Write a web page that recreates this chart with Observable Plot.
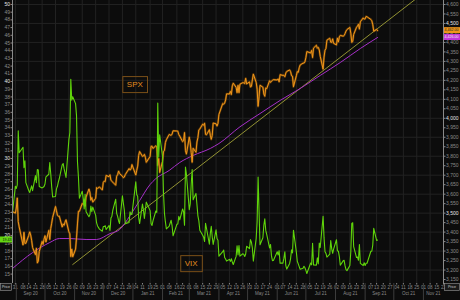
<!DOCTYPE html>
<html><head><meta charset="utf-8">
<script src="https://cdn.jsdelivr.net/npm/d3@7"></script>
<script src="https://cdn.jsdelivr.net/npm/@observablehq/plot@0.6"></script>
<style>
html,body{margin:0;padding:0;background:#0c0c0c;}
#chart{width:460px;height:300px;overflow:hidden;}
</style></head><body><div id="chart"></div>
<script>
// ---- data (trading days, SPX close, VIX close) ----
const dates = [
"2020-08-28","2020-08-31",
"2020-09-01","2020-09-02","2020-09-03","2020-09-04","2020-09-08","2020-09-09","2020-09-10","2020-09-11","2020-09-14","2020-09-15","2020-09-16","2020-09-17","2020-09-18","2020-09-21","2020-09-22","2020-09-23","2020-09-24","2020-09-25","2020-09-28","2020-09-29","2020-09-30",
"2020-10-01","2020-10-02","2020-10-05","2020-10-06","2020-10-07","2020-10-08","2020-10-09","2020-10-12","2020-10-13","2020-10-14","2020-10-15","2020-10-16","2020-10-19","2020-10-20","2020-10-21","2020-10-22","2020-10-23","2020-10-26","2020-10-27","2020-10-28","2020-10-29","2020-10-30",
"2020-11-02","2020-11-03","2020-11-04","2020-11-05","2020-11-06","2020-11-09","2020-11-10","2020-11-11","2020-11-12","2020-11-13","2020-11-16","2020-11-17","2020-11-18","2020-11-19","2020-11-20","2020-11-23","2020-11-24","2020-11-25","2020-11-27","2020-11-30",
"2020-12-01","2020-12-02","2020-12-03","2020-12-04","2020-12-07","2020-12-08","2020-12-09","2020-12-10","2020-12-11","2020-12-14","2020-12-15","2020-12-16","2020-12-17","2020-12-18","2020-12-21","2020-12-22","2020-12-23","2020-12-24","2020-12-28","2020-12-29","2020-12-30","2020-12-31",
"2021-01-04","2021-01-05","2021-01-06","2021-01-07","2021-01-08","2021-01-11","2021-01-12","2021-01-13","2021-01-14","2021-01-15","2021-01-19","2021-01-20","2021-01-21","2021-01-22","2021-01-25","2021-01-26","2021-01-27","2021-01-28","2021-01-29",
"2021-02-01","2021-02-02","2021-02-03","2021-02-04","2021-02-05","2021-02-08","2021-02-09","2021-02-10","2021-02-11","2021-02-12","2021-02-16","2021-02-17","2021-02-18","2021-02-19","2021-02-22","2021-02-23","2021-02-24","2021-02-25","2021-02-26",
"2021-03-01","2021-03-02","2021-03-03","2021-03-04","2021-03-05","2021-03-08","2021-03-09","2021-03-10","2021-03-11","2021-03-12","2021-03-15","2021-03-16","2021-03-17","2021-03-18","2021-03-19","2021-03-22","2021-03-23","2021-03-24","2021-03-25","2021-03-26","2021-03-29","2021-03-30","2021-03-31",
"2021-04-01","2021-04-05","2021-04-06","2021-04-07","2021-04-08","2021-04-09","2021-04-12","2021-04-13","2021-04-14","2021-04-15","2021-04-16","2021-04-19","2021-04-20","2021-04-21","2021-04-22","2021-04-23","2021-04-26","2021-04-27","2021-04-28","2021-04-29","2021-04-30",
"2021-05-03","2021-05-04","2021-05-05","2021-05-06","2021-05-07","2021-05-10","2021-05-11","2021-05-12","2021-05-13","2021-05-14","2021-05-17","2021-05-18","2021-05-19","2021-05-20","2021-05-21","2021-05-24","2021-05-25","2021-05-26","2021-05-27","2021-05-28",
"2021-06-01","2021-06-02","2021-06-03","2021-06-04","2021-06-07","2021-06-08","2021-06-09","2021-06-10","2021-06-11","2021-06-14","2021-06-15","2021-06-16","2021-06-17","2021-06-18","2021-06-21","2021-06-22","2021-06-23","2021-06-24","2021-06-25","2021-06-28","2021-06-29","2021-06-30",
"2021-07-01","2021-07-02","2021-07-06","2021-07-07","2021-07-08","2021-07-09","2021-07-12","2021-07-13","2021-07-14","2021-07-15","2021-07-16","2021-07-19","2021-07-20","2021-07-21","2021-07-22","2021-07-23","2021-07-26","2021-07-27","2021-07-28","2021-07-29","2021-07-30",
"2021-08-02","2021-08-03","2021-08-04","2021-08-05","2021-08-06","2021-08-09","2021-08-10","2021-08-11","2021-08-12","2021-08-13","2021-08-16","2021-08-17","2021-08-18","2021-08-19","2021-08-20","2021-08-23","2021-08-24","2021-08-25","2021-08-26","2021-08-27","2021-08-30","2021-08-31",
"2021-09-01","2021-09-02","2021-09-03","2021-09-07","2021-09-08","2021-09-09","2021-09-10","2021-09-13","2021-09-14"
];
const spx = [
3508,3500,
3527,3580,3455,3427,3332,3399,3340,3341,3383,3401,3385,3357,3319,3281,3315,3237,3247,3298,3351,3335,3363,
3381,3348,3409,3361,3419,3447,3477,3535,3512,3489,3483,3484,3427,3443,3436,3453,3465,3401,3391,3271,3310,3270,
3310,3370,3443,3510,3509,3551,3545,3572,3537,3585,3627,3610,3568,3582,3558,3578,3635,3630,3638,3622,
3662,3669,3666,3699,3692,3702,3673,3668,3663,3647,3695,3702,3722,3709,3695,3687,3690,3703,3735,3727,3732,3756,
3701,3726,3748,3804,3825,3799,3801,3810,3795,3768,3799,3852,3853,3841,3855,3850,3751,3788,3714,
3774,3826,3830,3872,3887,3915,3912,3910,3917,3934,3933,3932,3914,3906,3877,3881,3925,3829,3811,
3901,3870,3820,3768,3842,3821,3875,3898,3939,3943,3969,3963,3974,3915,3913,3940,3911,3889,3910,3975,3971,3959,3973,
4020,4078,4074,4080,4097,4129,4128,4142,4125,4171,4185,4163,4135,4174,4135,4180,4188,4187,4183,4211,4181,
4192,4165,4168,4202,4233,4189,4153,4063,4113,4174,4164,4128,4116,4160,4156,4198,4189,4196,4200,4204,
4202,4208,4192,4230,4226,4227,4219,4239,4247,4255,4246,4224,4222,4166,4224,4246,4242,4266,4281,4291,4291,4298,
4320,4352,4344,4358,4320,4370,4385,4369,4374,4360,4327,4259,4323,4359,4368,4412,4422,4401,4400,4419,4395,
4387,4423,4402,4429,4437,4433,4436,4447,4460,4468,4479,4449,4400,4406,4442,4480,4486,4496,4470,4509,4529,4523,
4524,4537,4535,4521,4514,4493,4459,4469,4462
];
const vix = [
22.96,26.41,
26.12,26.57,33.60,30.75,31.46,28.81,29.71,26.87,25.85,25.59,26.04,26.46,25.83,27.78,26.86,28.58,28.51,26.38,26.19,26.27,26.37,
26.70,27.63,27.96,29.48,28.06,26.36,25.00,25.07,26.07,26.40,26.97,27.41,29.18,29.35,28.65,28.11,27.55,32.46,33.35,40.28,37.59,38.02,
37.13,35.55,29.57,27.58,24.86,25.75,24.80,23.45,25.35,23.10,22.45,22.71,23.84,23.11,23.70,22.66,21.64,21.25,20.84,20.57,
21.17,21.17,21.28,20.79,21.30,20.68,22.27,22.52,23.31,24.72,22.89,22.50,21.93,21.57,25.16,24.23,23.31,21.53,21.70,23.08,22.77,22.75,
26.97,25.34,25.07,22.37,21.56,24.08,23.33,22.21,23.25,24.34,23.24,21.58,21.32,21.91,23.19,23.02,37.21,30.21,33.09,
30.24,25.56,22.91,21.77,20.87,21.24,21.63,21.99,21.25,19.97,21.46,21.50,22.49,22.05,23.45,23.11,21.34,28.89,27.95,
23.35,24.10,26.67,28.57,24.66,25.47,24.03,22.56,21.91,20.69,20.03,19.79,19.23,21.58,20.95,18.88,20.30,21.20,19.81,18.86,20.74,19.61,19.40,
17.33,17.91,18.12,17.16,16.95,16.69,16.91,16.65,16.99,16.57,16.25,17.30,18.68,17.50,18.71,17.33,17.64,17.56,17.28,17.61,18.61,
18.31,19.48,19.15,18.39,16.69,19.66,21.84,27.59,23.13,18.81,19.72,21.34,22.18,20.67,20.15,18.40,18.84,17.36,16.74,16.76,
17.90,17.48,18.04,16.42,16.42,17.07,17.89,16.10,15.65,16.39,17.02,18.15,17.75,20.70,17.89,16.66,16.32,15.97,15.62,15.76,16.02,15.83,
15.48,15.07,16.44,16.20,19.00,16.18,16.17,17.12,16.33,19.02,18.45,22.50,19.73,17.91,17.69,17.20,17.58,19.36,18.31,17.70,18.24,
19.46,18.04,17.97,17.28,16.15,16.72,16.79,16.06,15.59,15.45,16.12,17.91,21.57,21.67,18.56,17.15,17.22,16.79,18.84,16.39,16.11,16.48,
16.11,16.41,16.41,17.96,17.96,18.80,20.95,19.37,19.43
];
// moving average (magenta)
const maDates = ["2020-08-28","2020-09-18","2020-10-06","2020-10-16","2020-10-27","2020-11-13","2020-11-24","2020-12-08","2020-12-18","2020-12-29","2021-01-08","2021-01-19","2021-01-25","2021-02-08","2021-02-19","2021-03-05","2021-03-23","2021-04-01","2021-04-23","2021-05-14","2021-06-04","2021-06-25","2021-07-16","2021-08-06","2021-08-27","2021-09-14"];
const maValues = [3208,3292,3345,3366,3366,3361,3361,3392,3413,3487,3566,3651,3682,3725,3767,3804,3841,3867,3955,4025,4094,4157,4226,4294,4368,4426];
// trend line (yellow)
const trendDates = ["2020-10-30","2021-10-25"];
const trendValues = [3229,4633];
// axes
const vixTicks = [15,16,17,18,19,20,21,22,23,24,25,26,27,28,29,30,31,32,33,34,35,36,37,38,39,40,41,42,43,44,45,46,47,48,49,50];
const vixMajor = [20,30,40,50];
const spxTicks = [3150,3200,3250,3300,3350,3400,3450,3500,3550,3600,3650,3700,3750,3800,3850,3900,3950,4000,4050,4100,4150,4200,4250,4300,4350,4400,4450,4500,4550,4600];
const spxMajor = [3500,4000,4500];
const spxGrid = [3200,3300,3400,3500,3600,3700,3800,3900,4000,4100,4200,4300,4400,4500,4600];
const weekTicks = ["2020-08-31","2020-09-08","2020-09-14","2020-09-21","2020-09-28","2020-10-05","2020-10-12","2020-10-19","2020-10-26","2020-11-02","2020-11-09","2020-11-16","2020-11-23","2020-11-30","2020-12-07","2020-12-14","2020-12-21","2020-12-28","2021-01-04","2021-01-11","2021-01-19","2021-01-25","2021-02-01","2021-02-08","2021-02-16","2021-02-22","2021-03-01","2021-03-08","2021-03-15","2021-03-22","2021-03-29","2021-04-05","2021-04-12","2021-04-19","2021-04-26","2021-05-03","2021-05-10","2021-05-17","2021-05-24","2021-06-01","2021-06-07","2021-06-14","2021-06-21","2021-06-28","2021-07-05","2021-07-12","2021-07-19","2021-07-26","2021-08-02","2021-08-09","2021-08-16","2021-08-23","2021-08-30","2021-09-07","2021-09-13","2021-09-20","2021-09-27","2021-10-04","2021-10-11","2021-10-18","2021-10-25","2021-11-01","2021-11-08","2021-11-15","2021-11-22"];
const monthNames = ["Sep 20","Oct 20","Nov 20","Dec 20","Jan 21","Feb 21","Mar 21","Apr 21","May 21","Jun 21","Jul 21","Aug 21","Sep 21","Oct 21","Nov 21"];
const monthStarts = ["2020-09-01","2020-10-01","2020-11-01","2020-12-01","2021-01-01","2021-02-01","2021-03-01","2021-04-01","2021-05-01","2021-06-01","2021-07-01","2021-08-01","2021-09-01","2021-10-01","2021-11-01"];
const xDomain = ["2020-08-28","2021-11-22"];
const spxDomain = [3129, 4621];
const vixAxisEnds = [50, 15];          // VIX values at ...
const vixAxisSpx = [4600, 3178.6];     // ... these SPX-axis levels
// annotations
const noteText = ["SPX","VIX"];
const noteDates = ["2021-01-03","2021-03-03"];
const noteValues = [4178, 3234];

// ---- build ----
const P = d3.utcParse("%Y-%m-%d");
const rows = dates.map((d, i) => ({date: P(d), spx: spx[i], vix: vix[i]}));
const ma = maDates.map((d, i) => ({date: P(d), v: maValues[i]}));
const trend = trendDates.map((d, i) => ({date: P(d), v: trendValues[i]}));
const v2s = d3.scaleLinear().domain(vixAxisEnds).range(vixAxisSpx);
const x0 = P(xDomain[0]), x1 = P(xDomain[1]);
const vixMap = new Map(vixTicks.map(v => [v2s(v), v]));
const monthMid = monthStarts.map((s, i) => {
  const a = P(s), b = i + 1 < monthStarts.length ? P(monthStarts[i + 1]) : x1;
  const e = b > x1 ? x1 : b;
  return new Date((+a + +e) / 2);
});
const monthMap = new Map(monthMid.map((d, i) => [+d, monthNames[i]]));
const weekDates = weekTicks.map(P);
const gridDates = weekDates.filter((d, i) => i % 2 === 0);
const minorV = vixTicks.filter(v => !vixMajor.includes(v)).map(v2s);
const majorV = vixMajor.map(v2s);
const minorS = spxTicks.filter(v => !spxMajor.includes(v));
const notes = noteText.map((t, i) => ({t, date: P(noteDates[i]), v: noteValues[i]}));

const grey = "#8a8a8a", bright = "#e6e6e6";
const plot = Plot.plot({
  width: 460, height: 300,
  marginLeft: 12, marginRight: 17, marginTop: 0, marginBottom: 17,
  style: {background: "#0c0c0c", color: grey, fontFamily: "Liberation Sans, Arial, sans-serif", fontSize: "5px", overflow: "visible"},
  x: {type: "utc", domain: [x0, x1], axis: null},
  y: {domain: spxDomain, axis: null},
  marks: [
    Plot.gridY(spxGrid, {stroke: "#222222", strokeOpacity: 1}),
    Plot.gridX(gridDates, {stroke: "#222222", strokeOpacity: 1}),
    Plot.line(trend, {x: "date", y: "v", stroke: "#b4b43c", strokeWidth: 0.8, clip: true}),
    Plot.line(ma, {x: "date", y: "v", stroke: "#a52fc8", strokeWidth: 1, curve: "monotone-x"}),
    Plot.line(rows, {x: "date", y: "spx", stroke: "#a86208", strokeWidth: 2.2, strokeOpacity: 0.55}),
    Plot.line(rows, {x: "date", y: "spx", stroke: "#f0961a", strokeWidth: 1}),
    Plot.line(rows, {x: "date", y: d => v2s(d.vix), stroke: "#5fd40a", strokeWidth: 1.1}),
    Plot.ruleX([x0, x1], {stroke: "#8a8a8a", strokeWidth: 1}),
    Plot.axisY(minorV, {anchor: "left", tickSize: 1.5, tickPadding: 1, tickFormat: d => vixMap.get(d), fill: grey, stroke: grey}),
    Plot.axisY(majorV, {anchor: "left", tickSize: 1.5, tickPadding: 1, tickFormat: d => vixMap.get(d), fill: bright, stroke: grey}),
    Plot.axisY(minorS, {anchor: "right", tickSize: 1.5, tickPadding: 1, tickFormat: d3.format(","), fill: grey, stroke: grey}),
    Plot.axisY(spxMajor, {anchor: "right", tickSize: 1.5, tickPadding: 1, tickFormat: d3.format(","), fill: bright, stroke: grey}),
    Plot.axisX(weekDates, {anchor: "bottom", tickSize: 1.5, tickPadding: 0.5, tickFormat: d3.utcFormat("%d"), fill: grey, stroke: grey, fontSize: 4.5}),
    Plot.axisX(monthStarts.map(P), {anchor: "bottom", tickSize: 17, tickFormat: () => "", stroke: "#3c3c3c"}),
    Plot.axisX(monthMid, {anchor: "bottom", tickSize: 0, tickPadding: 8, tickFormat: d => monthMap.get(+d), fill: grey, fontSize: 4.5}),
    Plot.text(notes, {x: "date", y: "v", text: "t", fill: "#e58d1f", fontSize: 8, fontFamily: "Liberation Sans, Arial, sans-serif"})
  ]
});
document.getElementById("chart").append(plot);

// boxes around annotations (placed in the same local frame as each text)
const svg = d3.select(plot);
svg.selectAll("text").filter(function () { return noteText.includes(this.textContent); }).each(function () {
  const b = this.getBBox();
  d3.select(this.parentNode).insert("rect", "text")
    .attr("transform", this.getAttribute("transform"))
    .attr("x", b.x - 4).attr("y", b.y - 3.5).attr("width", b.width + 8).attr("height", b.height + 7)
    .attr("fill", "none").attr("stroke", "#7a4f18").attr("stroke-width", 1);
});
// last-value tags
const ys = plot.scale("y");
const W = 460, L = 12, R = 443;
function tag(x, w, y, fill, color, text, anchor) {
  const g = svg.append("g");
  g.append("rect").attr("x", x).attr("y", y - 3).attr("width", w).attr("height", 6).attr("fill", fill);
  g.append("text").attr("x", anchor === "start" ? x + 0.5 : x + w - 0.5).attr("y", y).attr("dy", "0.35em")
    .attr("text-anchor", anchor).attr("fill", color).attr("font-size", 3.6).text(text);
}
const last = rows[rows.length - 1];
tag(R + 1, W - R - 1, ys.apply(last.spx), "#f0961a", "#1a1a1a", d3.format(",.2f")(last.spx), "start");
tag(R + 1, W - R - 1, ys.apply(maValues[maValues.length - 1]), "#c236d8", "#f2f2f2", d3.format(",.2f")(maValues[maValues.length - 1]), "start");
tag(0, L, ys.apply(v2s(last.vix)), "#64d612", "#0c0c0c", d3.format(".2f")(last.vix), "end");
// "Price" boxes
function priceBox(x, w) {
  const g = svg.append("g");
  g.append("rect").attr("x", x + 0.5).attr("y", 283.5).attr("width", w - 1).attr("height", 7).attr("fill", "#1a1a1a").attr("stroke", "#9a9a9a").attr("stroke-width", 0.6);
  g.append("text").attr("x", x + w / 2).attr("y", 287).attr("dy", "0.35em").attr("text-anchor", "middle").attr("fill", "#d0d0d0").attr("font-size", 3.6).text("Price");
}
priceBox(0, L);
priceBox(R + 1, W - R - 1);
</script>
</body></html>
